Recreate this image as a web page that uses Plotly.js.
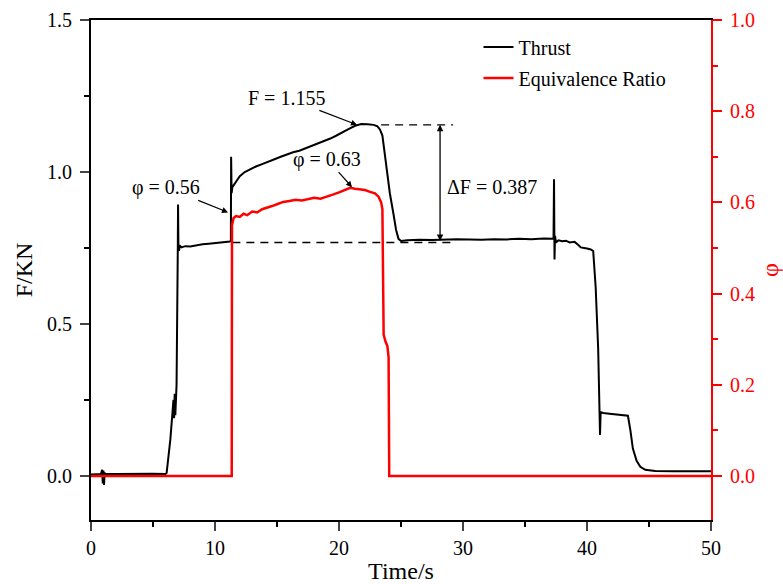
<!DOCTYPE html>
<html>
<head>
<meta charset="utf-8">
<script src="https://cdn.plot.ly/plotly-3.0.1.min.js"></script>
<style>html,body{margin:0;padding:0;background:#fff;}#chart{width:783px;height:584px;}</style>
</head>
<body>
<div id="chart"></div>
<script>
// Thrust (F/KN) vs time (s)
const thrustTime = [0.0, 0.8, 0.9, 0.95, 1.0, 1.05, 1.1, 1.2, 2.0, 3.0, 4.0, 5.0, 6.0, 6.1, 6.4, 6.6, 6.65, 6.7, 6.75, 6.8, 6.85, 6.9, 7.0, 7.02, 7.05, 7.1, 7.15, 7.3, 7.6, 8.0, 8.5, 9.0, 9.5, 10.0, 10.5, 11.0, 11.2, 11.28, 11.3, 11.34, 11.4, 11.6, 11.8, 12.0, 12.4, 12.8, 13.3, 13.8, 14.3, 14.8, 15.3, 15.8, 16.3, 16.8, 17.3, 17.8, 18.3, 18.8, 19.3, 19.8, 20.3, 20.8, 21.3, 21.8, 22.3, 22.8, 23.1, 23.3, 23.5, 23.8, 24.1, 24.4, 24.6, 24.8, 25.0, 25.5, 26.5, 27.5, 28.5, 29.5, 30.5, 31.5, 32.5, 33.5, 34.5, 35.5, 36.5, 37.2, 37.3, 37.34, 37.38, 37.42, 37.5, 37.7, 38.0, 38.3, 38.6, 39.0, 39.3, 39.5, 40.0, 40.3, 40.5, 40.7, 40.9, 41.0, 41.05, 41.1, 41.3, 42.0, 42.7, 43.3, 43.5, 43.7, 44.0, 44.3, 44.7, 45.5, 47.0, 50.0];
const thrustKN = [0.005, 0.006, 0.02, -0.025, 0.018, -0.03, 0.01, 0.006, 0.006, 0.007, 0.008, 0.007, 0.006, 0.01, 0.12, 0.22, 0.25, 0.19, 0.27, 0.2, 0.26, 0.3, 0.75, 0.893, 0.76, 0.74, 0.758, 0.752, 0.756, 0.755, 0.759, 0.762, 0.764, 0.766, 0.768, 0.77, 0.771, 0.775, 1.05, 0.93, 0.95, 0.962, 0.975, 0.986, 1.0, 1.009, 1.018, 1.026, 1.035, 1.042, 1.05, 1.058, 1.065, 1.07, 1.078, 1.085, 1.092, 1.1, 1.11, 1.12, 1.132, 1.142, 1.152, 1.158, 1.157, 1.155, 1.15, 1.14, 1.12, 1.03, 0.93, 0.86, 0.81, 0.78, 0.773, 0.775, 0.777, 0.776, 0.778, 0.779, 0.778, 0.777, 0.779, 0.778, 0.78, 0.779, 0.781, 0.78, 0.78, 0.976, 0.712, 0.79, 0.768, 0.775, 0.772, 0.774, 0.768, 0.77, 0.76, 0.752, 0.748, 0.745, 0.74, 0.62, 0.42, 0.24, 0.135, 0.21, 0.207, 0.204, 0.202, 0.198, 0.15, 0.09, 0.05, 0.03, 0.02, 0.016, 0.015, 0.015];

// Equivalence ratio (phi) vs time (s)
const phiTime = [0, 11.35, 11.37, 11.42, 11.5, 11.7, 12.0, 12.3, 12.6, 13.0, 13.4, 13.8, 14.2, 14.6, 15.0, 15.5, 16.0, 16.5, 17.0, 17.5, 18.0, 18.5, 19.0, 19.5, 20.0, 20.5, 20.9, 21.3, 21.7, 22.1, 22.5, 22.9, 23.2, 23.4, 23.5, 23.55, 23.6, 23.75, 23.9, 24.0, 24.05, 50];
const phiValue = [0, 0, 0.55, 0.56, 0.566, 0.57, 0.568, 0.575, 0.572, 0.58, 0.578, 0.585, 0.588, 0.592, 0.596, 0.601, 0.603, 0.606, 0.604, 0.607, 0.61, 0.608, 0.612, 0.617, 0.622, 0.627, 0.632, 0.63, 0.629, 0.627, 0.623, 0.62, 0.612, 0.6, 0.585, 0.45, 0.31, 0.295, 0.285, 0.26, 0, 0];

// Reference levels for the annotation
const peakThrust = 1.155;
const deltaThrust = 0.387;
const baseThrust = peakThrust - deltaThrust;
const peakLineSpan = [23.4, 29.2];
const baseLineSpan = [11.4, 29.2];
const deltaArrowTime = 28.15;

const xTickVals = [0, 10, 20, 30, 40, 50];

const serif = "Liberation Serif";

const traces = [
  {x: thrustTime, y: thrustKN, type: 'scatter', mode: 'lines', name: 'Thrust',
   line: {color: '#000000', width: 2}, legendgroup: 'a'},
  {x: phiTime, y: phiValue, type: 'scatter', mode: 'lines', name: 'Equivalence Ratio',
   line: {color: '#ff0000', width: 2.5}, yaxis: 'y2', legendgroup: 'b'},
  {x: peakLineSpan, y: [peakThrust, peakThrust], type: 'scatter', mode: 'lines', showlegend: false,
   line: {color: '#000000', width: 1.3, dash: '8px,6px'}, hoverinfo: 'skip'},
  {x: baseLineSpan, y: [baseThrust, baseThrust], type: 'scatter', mode: 'lines', showlegend: false,
   line: {color: '#000000', width: 1.3, dash: '8px,6px'}, hoverinfo: 'skip'}
];

const annFont = {family: serif, size: 20, color: '#000'};
const layout = {
  width: 783, height: 584,
  margin: {l: 91, r: 72, t: 20, b: 64},
  paper_bgcolor: '#ffffff', plot_bgcolor: '#ffffff',
  font: {family: serif, size: 20, color: '#000'},
  showlegend: true,
  legend: {x: 0.625, y: 0.985, xanchor: 'left', yanchor: 'top', bgcolor: 'rgba(0,0,0,0)',
           font: {family: serif, size: 20, color: '#000'}, tracegroupgap: 2},
  xaxis: {range: [0, 50], tickvals: xTickVals, ticks: 'outside', ticklen: 9, tickwidth: 2,
          showline: true, linecolor: '#000', linewidth: 2, mirror: true, showgrid: false, zeroline: false,
          minor: {dtick: 5, ticks: 'outside', ticklen: 5, tickwidth: 2, tickcolor: '#000'},
          tickfont: {family: serif, size: 20, color: '#000'},
          title: {text: 'Time/s', font: {family: serif, size: 24, color: '#000'}, standoff: 4}},
  yaxis: {range: [-0.145, 1.5], dtick: 0.5, tick0: 0, tickformat: '.1f', ticks: 'outside', ticklen: 9, tickwidth: 2,
          ticklabelstandoff: 4,
          showline: true, linecolor: '#000', linewidth: 2, showgrid: false, zeroline: false,
          minor: {dtick: 0.25, ticks: 'outside', ticklen: 5, tickwidth: 2, tickcolor: '#000'},
          tickfont: {family: serif, size: 20, color: '#000'},
          title: {text: 'F/KN', font: {family: serif, size: 24, color: '#000'}, standoff: 8}},
  yaxis2: {range: [-0.0965, 1.0], dtick: 0.2, tick0: 0, tickformat: '.1f', overlaying: 'y', side: 'right',
           ticks: 'outside', ticklen: 9, tickwidth: 2, tickcolor: '#ff0000', ticklabelstandoff: 4,
           showline: true, linecolor: '#ff0000', linewidth: 2, showgrid: false, zeroline: false,
           minor: {dtick: 0.1, ticks: 'outside', ticklen: 5, tickwidth: 2, tickcolor: '#ff0000'},
           tickfont: {family: serif, size: 20, color: '#ff0000'},
           title: {text: 'φ', font: {family: serif, size: 24, color: '#ff0000'}, standoff: 8}},
  annotations: [
    {x: 21.45, y: peakThrust, xref: 'x', yref: 'y', text: 'F = 1.155', showarrow: true,
     ax: -70, ay: -27, arrowhead: 2, arrowsize: 1, arrowwidth: 1.2, arrowcolor: '#000', font: annFont},
    {x: 11.05, y: 0.867, xref: 'x', yref: 'y', text: 'φ = 0.56', showarrow: true,
     ax: -62, ay: -25, arrowhead: 2, arrowsize: 1, arrowwidth: 1.2, arrowcolor: '#000', font: annFont},
    {x: 21.05, y: 0.95, xref: 'x', yref: 'y', text: 'φ = 0.63', showarrow: true,
     ax: -25, ay: -28, arrowhead: 2, arrowsize: 1, arrowwidth: 1.2, arrowcolor: '#000', font: annFont},
    {x: 28.55, y: 0.95, xref: 'x', yref: 'y', text: 'ΔF = 0.387', showarrow: false,
     xanchor: 'left', yanchor: 'middle', font: annFont},
    {x: deltaArrowTime, y: peakThrust, xref: 'x', yref: 'y', ax: deltaArrowTime, ay: baseThrust,
     axref: 'x', ayref: 'y', text: '', showarrow: true, arrowside: 'end+start',
     arrowhead: 2, startarrowhead: 2, arrowsize: 1, startarrowsize: 1, arrowwidth: 1.3, arrowcolor: '#000',
     standoff: 0, startstandoff: 0}
  ]
};

Plotly.newPlot('chart', traces, layout, {displayModeBar: false, staticPlot: true});
</script>
</body>
</html>
